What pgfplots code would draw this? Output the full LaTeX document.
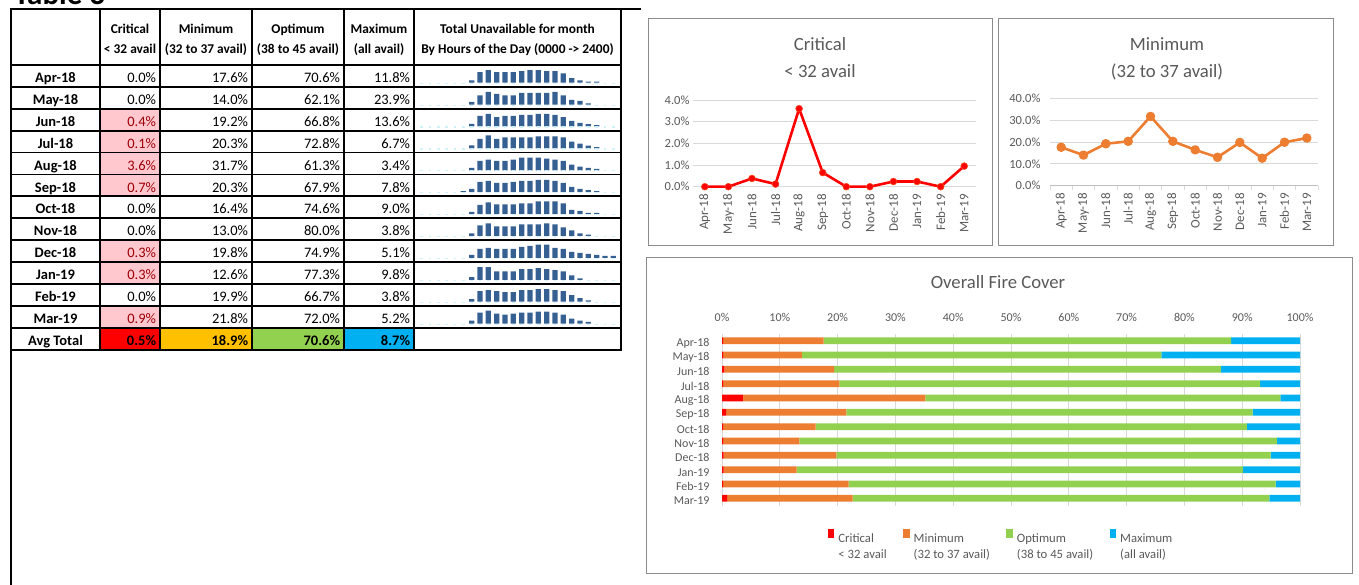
\documentclass[border=0pt]{standalone}
\usepackage{fontspec}
\setmainfont{Carlito}
\usepackage{pgfplots}
\usepackage{pgfplotstable}
\pgfplotsset{compat=1.18}

\definecolor{txtgray}{HTML}{595959}
\definecolor{gridgray}{HTML}{D9D9D9}
\definecolor{boxgray}{HTML}{8C8C8C}
\definecolor{xlred}{HTML}{FF0000}
\definecolor{xlorange}{HTML}{ED7D31}
\definecolor{xlgreen}{HTML}{92D050}
\definecolor{xlblue}{HTML}{00B0F0}
\definecolor{avgorange}{HTML}{FFC000}
\definecolor{pinkfill}{HTML}{FFC7CE}
\definecolor{darkred}{HTML}{9C0006}
\definecolor{sparkblue}{HTML}{376092}
\definecolor{sparkdash}{HTML}{CFF1F7}

% overall fire cover as drawn in the bar chart (pos 11 = Apr-18 at the top)
\pgfplotstableread{
pos crit minv opt maxv
11 0.2 17.4 70.5 11.9
10 0.2 13.6 62.2 24.0
9  0.4 19.0 66.9 13.7
8  0.2 20.1 72.8 6.9
7  3.6 31.6 61.4 3.4
6  0.7 20.8 70.3 8.2
5  0.2 16.0 74.6 9.2
4  0.2 13.2 82.6 4.0
3  0.3 19.5 75.1 5.1
2  0.3 12.6 77.2 9.9
1  0.2 21.7 73.9 4.2
0  0.9 21.7 72.1 5.3
}\fire

\pgfplotsset{
  spark/.style={anchor=south west, scale only axis, width=200pt, height=13.3pt,
    xmin=-0.5, xmax=23.5, ymin=0, ymax=40, hide axis, clip=false},
  linechart/.style={anchor=south west, scale only axis,
    xmin=-0.5, xmax=11.5, xtick={0,...,11},
    xticklabels={Apr-18,May-18,Jun-18,Jul-18,Aug-18,Sep-18,Oct-18,Nov-18,Dec-18,Jan-19,Feb-19,Mar-19},
    ymajorgrids, grid style={draw=gridgray, line width=0.8pt},
    axis line style={draw=none}, major tick length=0pt,
    tick label style={font=\fontsize{12.5}{14}\selectfont, text=txtgray},
    xticklabel style={rotate=90, anchor=east, font=\fontsize{13}{14}\selectfont},
    xticklabel shift=4pt,
    yticklabel={\pgfmathprintnumber[fixed,fixed zerofill,precision=1]{\tick}\%},
    /pgf/number format/assume math mode=true, clip=false},
}

\newcommand\spark[2]{%
  \begin{axis}[spark, at={(417.5pt,{584pt-82.7pt-#1*21.9pt})}]
    \addplot[ybar, fill=sparkblue, draw=none, bar width=5.3pt] coordinates {#2};
    \draw[sparkdash, line width=1.2pt, dash pattern=on 2.7pt off 5.63pt]
      ([yshift=-0.6pt]axis cs:-0.16,0) -- ([yshift=-0.6pt]axis cs:23.5,0);
  \end{axis}}

\begin{document}
\begin{tikzpicture}[x=1pt,y=1pt]
\useasboundingbox (0,0) rectangle (1359,584);

\begin{scope}[shift={(0,584)}, y=-1pt,
  val/.style={anchor=base east, inner sep=0pt, font=\fontsize{14.5}{17}\selectfont},
  lab/.style={anchor=base, inner sep=0pt, font=\fontsize{14.5}{17}\selectfont\bfseries},
  hdr/.style={anchor=base, inner sep=0pt, font=\fontsize{13.4}{16}\selectfont\bfseries},
  ttl/.style={anchor=base, inner sep=0pt, font=\fontsize{18.7}{22}\selectfont, text=txtgray}]

  \node[anchor=base west, inner sep=0pt, font=\fontsize{31}{36}\selectfont\bfseries] at (14,4.5) {Table 3};

  % conditional fills
  \foreach \r in {2,3,4,5,8,9,11}
    \fill[pinkfill] (100,{65+\r*21.9}) rectangle (160,{65+(\r+1)*21.9});
  \fill[xlred]     (100,327.8) rectangle (160,349.7);
  \fill[avgorange] (160,327.8) rectangle (252,349.7);
  \fill[xlgreen]   (252,327.8) rectangle (344,349.7);
  \fill[xlblue]    (344,327.8) rectangle (414,349.7);

  % grid of the table
  \begin{scope}[line width=1.8pt, line cap=rect]
    \draw (11,9) -- (640,9);
    \draw (11,9) -- (11,590);
    \foreach \k in {0,...,13} \draw (11,{65+\k*21.9}) -- (621,{65+\k*21.9});
    \foreach \xx in {100,160,252,344,414,621} \draw (\xx,9) -- (\xx,349.7);
  \end{scope}

  % header
  \node[hdr] at (130,34) {Critical};
  \node[hdr] at (130,53.5) {< 32 avail};
  \node[hdr] at (206,34) {Minimum};
  \node[hdr] at (206,53.5) {(32 to 37 avail)};
  \node[hdr] at (298,34) {Optimum};
  \node[hdr] at (298,53.5) {(38 to 45 avail)};
  \node[hdr] at (379,34) {Maximum};
  \node[hdr] at (379,53.5) {(all avail)};
  \node[hdr] at (517.5,34) {Total Unavailable for month};
  \node[hdr] at (517.5,53.5) {By Hours of the Day (0000 -> 2400)};

  % body
  \foreach \lab/\cA/\cB/\cC/\cD/\pk [count=\i from 0] in {
      Apr-18/0.0/17.6/70.6/11.8/0, May-18/0.0/14.0/62.1/23.9/0,
      Jun-18/0.4/19.2/66.8/13.6/1, Jul-18/0.1/20.3/72.8/6.7/1,
      Aug-18/3.6/31.7/61.3/3.4/1,  Sep-18/0.7/20.3/67.9/7.8/1,
      Oct-18/0.0/16.4/74.6/9.0/0,  Nov-18/0.0/13.0/80.0/3.8/0,
      Dec-18/0.3/19.8/74.9/5.1/1,  Jan-19/0.3/12.6/77.3/9.8/1,
      Feb-19/0.0/19.9/66.7/3.8/0,  Mar-19/0.9/21.8/72.0/5.2/1}{
    \pgfmathsetmacro\yb{65+(\i+1)*21.9-4.3}
    \node[lab] at (55.5,\yb) {\lab};
    \ifnum\pk=1
      \node[val, text=darkred] at (156.3,\yb) {\cA\%};
    \else
      \node[val] at (156.3,\yb) {\cA\%};
    \fi
    \node[val] at (248.3,\yb) {\cB\%};
    \node[val] at (340.3,\yb) {\cC\%};
    \node[val] at (410.3,\yb) {\cD\%};
  }
  \node[lab] at (55.5,345.4) {Avg Total};
  \node[val, font=\fontsize{14.5}{17}\selectfont\bfseries] at (156.3,345.4) {0.5\%};
  \node[val, font=\fontsize{14.5}{17}\selectfont\bfseries] at (248.3,345.4) {18.9\%};
  \node[val, font=\fontsize{14.5}{17}\selectfont\bfseries] at (340.3,345.4) {70.6\%};
  \node[val, font=\fontsize{14.5}{17}\selectfont\bfseries] at (410.3,345.4) {8.7\%};

  % chart frames and titles
  \draw[boxgray, line width=0.8pt] (648,18) rectangle (992,245);
  \draw[boxgray, line width=0.8pt] (998,18) rectangle (1333,245);
  \draw[boxgray, line width=0.8pt] (646,257) rectangle (1352,573);
  \node[ttl] at (820,50.7) {Critical};
  \node[ttl] at (820,78) {< 32 avail};
  \node[ttl] at (1167,50.7) {Minimum};
  \node[ttl] at (1167,78) {(32 to 37 avail)};
  \node[ttl] at (998,289) {Overall Fire Cover};
\end{scope}

% sparklines: unavailable by hour of the day, one per month
\spark{0}{(6,7)(7,32)(8,38)(9,32)(10,32)(11,32)(12,35)(13,38)(14,38)(15,35)(16,35)(17,28)(18,14)(19,7)(20,3)(21,3)}
\spark{1}{(6,8)(7,28)(8,38)(9,32)(10,28)(11,28)(12,35)(13,35)(14,35)(15,35)(16,38)(17,28)(18,14)(19,11)(20,4)}
\spark{2}{(6,8)(7,32)(8,38)(9,28)(10,32)(11,32)(12,35)(13,35)(14,38)(15,38)(16,35)(17,28)(18,17)(19,11)(20,7)(21,4)}
\spark{3}{(6,9)(7,29)(8,39)(9,29)(10,33)(11,33)(12,33)(13,33)(14,36)(15,36)(16,36)(17,33)(18,20)(19,14)(20,8)(21,4)}
\spark{4}{(6,7)(7,28)(8,32)(9,28)(10,28)(11,32)(12,38)(13,38)(14,38)(15,35)(16,32)(17,28)(18,17)(19,11)(20,7)(21,4)}
\spark{5}{(5,3)(6,10)(7,31)(8,34)(9,28)(10,28)(11,31)(12,34)(13,34)(14,37)(15,37)(16,34)(17,28)(18,16)(19,10)(20,6)(21,3)}
\spark{6}{(6,7)(7,28)(8,35)(9,29)(10,29)(11,29)(12,32)(13,32)(14,38)(15,38)(16,38)(17,32)(18,13)(19,10)(20,4)(21,4)}
\spark{7}{(6,8)(7,32)(8,38)(9,29)(10,29)(11,29)(12,35)(13,35)(14,35)(15,38)(16,35)(17,26)(18,17)(19,8)(20,4)}
\spark{8}{(6,9)(7,27)(8,30)(9,27)(10,27)(11,27)(12,33)(13,36)(14,40)(15,40)(16,30)(17,27)(18,18)(19,15)(20,12)(21,9)(22,6)(23,6)}
\spark{9}{(6,8)(7,38)(8,38)(9,25)(10,25)(11,25)(12,32)(13,32)(14,35)(15,32)(16,29)(17,25)(18,13)(19,4)}
\spark{10}{(6,8)(7,32)(8,35)(9,32)(10,29)(11,29)(12,35)(13,35)(14,38)(15,38)(16,35)(17,32)(18,20)(19,11)(20,4)}
\spark{11}{(6,9)(7,33)(8,39)(9,30)(10,27)(11,30)(12,33)(13,33)(14,36)(15,36)(16,33)(17,27)(18,15)(19,9)(20,5)}

% Critical line chart
\begin{axis}[linechart, at={(693pt,397.3pt)}, width=283pt, height=86.7pt,
  ymin=0, ymax=4, ytick={0,1,2,3,4}]
  \addplot[color=xlred, line width=2.6pt, line join=round, mark=*, mark size=3.4pt,
    mark options={fill=xlred, draw=xlorange!60!xlred, line width=0.6pt}]
    coordinates {(0,0)(1,0)(2,0.38)(3,0.12)(4,3.6)(5,0.65)(6,0)(7,0)(8,0.24)(9,0.24)(10,0)(11,0.95)};
\end{axis}

% Minimum line chart
\begin{axis}[linechart, at={(1050pt,398.3pt)}, width=268pt, height=87.4pt,
  ymin=0, ymax=40, ytick={0,10,20,30,40}, yticklabel shift=6pt,
  minor xtick={-0.5,0.5,...,11.5}, minor tick length=4pt, tick align=outside,
  xtick pos=bottom, minor x tick style={draw=gridgray, line width=0.8pt}]
  \draw[black!25, line width=0.8pt] (axis cs:-0.5,0) -- (axis cs:11.5,0);
  \addplot[color=xlorange, line width=2.6pt, line join=round, mark=*, mark size=3.4pt,
    mark options={fill=xlorange, draw=xlorange}]
    coordinates {(0,17.6)(1,14.0)(2,19.2)(3,20.3)(4,31.7)(5,20.3)(6,16.4)(7,13.0)(8,19.8)(9,12.6)(10,19.9)(11,21.8)};
\end{axis}

% Overall fire cover
\begin{axis}[at={(722pt,78.5pt)}, anchor=south west, scale only axis,
  width=578pt, height=172pt,
  xbar stacked, bar width=6.7pt,
  xmin=0, xmax=100, ymin=-0.5, ymax=11.5,
  ytick={0,...,11},
  yticklabels={Mar-19,Feb-19,Jan-19,Dec-18,Nov-18,Oct-18,Sep-18,Aug-18,Jul-18,Jun-18,May-18,Apr-18},
  xtick={0,10,...,100}, xticklabel={\pgfmathprintnumber{\tick}\%},
  xticklabel pos=top, xticklabel shift=8pt, yticklabel shift=9pt,
  yticklabel style={yshift=-2.5pt},
  xmajorgrids, grid style={draw=gridgray, line width=0.8pt},
  axis line style={draw=none}, major tick length=0pt,
  tick label style={font=\fontsize{12}{14}\selectfont, text=txtgray},
  /pgf/number format/assume math mode=true,
  legend columns=4, legend cell align=left,
  legend style={draw=none, fill=none, at={(0.4817,-0.183)}, anchor=center,
    font=\fontsize{12.7}{16}\selectfont, text=txtgray, nodes={inner sep=0.5pt},
    /tikz/every odd column/.append style={column sep=3.5pt},
    /tikz/every even column/.append style={column sep=16pt}},
  legend image code/.code={\fill[#1,draw=none] (0pt,-0.5pt) rectangle (6.5pt,8.5pt);},
]
  \addplot[fill=xlred, draw=none] table[x=crit, y=pos] {\fire};
  \addlegendentry{\begin{tabular}[t]{@{}l@{}}Critical\\< 32 avail\end{tabular}}
  \addplot[fill=xlorange, draw=none] table[x=minv, y=pos] {\fire};
  \addlegendentry{\begin{tabular}[t]{@{}l@{}}Minimum\\(32 to 37 avail)\end{tabular}}
  \addplot[fill=xlgreen, draw=none] table[x=opt, y=pos] {\fire};
  \addlegendentry{\begin{tabular}[t]{@{}l@{}}Optimum\\(38 to 45 avail)\end{tabular}}
  \addplot[fill=xlblue, draw=none] table[x=maxv, y=pos] {\fire};
  \addlegendentry{\begin{tabular}[t]{@{}l@{}}Maximum\\(all avail)\end{tabular}}
\end{axis}
\end{tikzpicture}
\end{document}
